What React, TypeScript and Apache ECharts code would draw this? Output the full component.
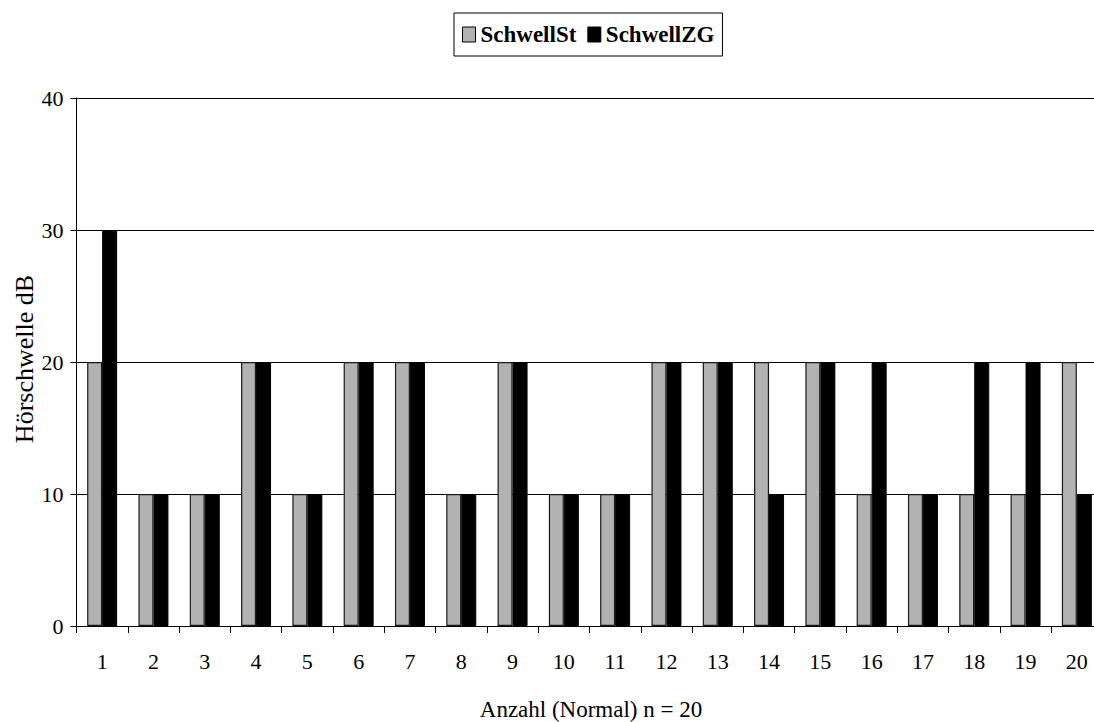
import React, { useEffect, useRef } from "react";
import * as echarts from "echarts";

const categories = ["1", "2", "3", "4", "5", "6", "7", "8", "9", "10", "11", "12", "13", "14", "15", "16", "17", "18", "19", "20"];
const schwellSt = [20, 10, 10, 20, 10, 20, 20, 10, 20, 10, 10, 20, 20, 20, 20, 10, 10, 10, 10, 20];
const schwellZG = [30, 10, 10, 20, 10, 20, 20, 10, 20, 10, 10, 20, 20, 10, 20, 20, 10, 20, 20, 10];
const yTicks = { min: 0, max: 40, interval: 10 };

const FONT = "'Liberation Serif', 'Times New Roman', serif";

export default function App() {
  const ref = useRef<HTMLDivElement>(null);

  useEffect(() => {
    if (!ref.current) return;
    const chart = echarts.init(ref.current, null, { renderer: "svg" });
    chart.setOption({
      animation: false,
      backgroundColor: "#ffffff",
      textStyle: { fontFamily: FONT },
      legend: {
        top: 13,
        left: 454,
        orient: "horizontal",
        padding: [10, 8, 10, 8],
        itemGap: 11,
        itemWidth: 13,
        itemHeight: 15,
        borderColor: "#000",
        borderWidth: 1,
        borderRadius: 0,
        icon: "rect",
        textStyle: { fontFamily: FONT, fontWeight: "bold", fontSize: 23, color: "#000" },
        data: [
          { name: "SchwellSt", itemStyle: { color: "#b2b2b2", borderColor: "#000", borderWidth: 1 } },
          { name: "SchwellZG", itemStyle: { color: "#000", borderColor: "#000", borderWidth: 1 } },
        ],
      },
      grid: { left: 76.5, top: 98, width: 1026, height: 528, containLabel: false, outerBoundsMode: "none" },
      xAxis: {
        type: "category",
        data: categories,
        axisLine: { lineStyle: { color: "#000", width: 1 } },
        axisTick: { show: true, length: 7, interval: 0, alignWithLabel: false, lineStyle: { color: "#000" } },
        axisLabel: { interval: 0, margin: 24, fontSize: 22, color: "#000", fontFamily: FONT },
        splitLine: { show: false },
      },
      yAxis: {
        type: "value",
        min: yTicks.min,
        max: yTicks.max,
        interval: yTicks.interval,
        axisLine: { show: true, lineStyle: { color: "#000", width: 1 } },
        axisTick: { show: true, length: 6, lineStyle: { color: "#000" } },
        axisLabel: { margin: 13, fontSize: 22, color: "#000", fontFamily: FONT },
        splitLine: { show: true, lineStyle: { color: "#000", width: 1 } },
      },
      series: [
        {
          name: "SchwellSt",
          type: "bar",
          data: schwellSt,
          barWidth: 15,
          barGap: "0%",
          itemStyle: { color: "#b2b2b2", borderColor: "#1a1a1a", borderWidth: 1.2 },
        },
        {
          name: "SchwellZG",
          type: "bar",
          data: schwellZG,
          barWidth: 15,
          barGap: "0%",
          itemStyle: { color: "#000", borderColor: "#000", borderWidth: 1 },
        },
      ],
      graphic: [
        {
          type: "text",
          x: 24,
          y: 359,
          rotation: Math.PI / 2,
          style: {
            text: "Hörschwelle dB",
            fontFamily: FONT,
            fontSize: 26,
            fill: "#000",
            align: "center",
            verticalAlign: "middle",
          },
        },
        {
          type: "text",
          x: 591,
          y: 709,
          style: {
            text: "Anzahl (Normal) n = 20",
            fontFamily: FONT,
            fontSize: 23,
            fill: "#000",
            align: "center",
            verticalAlign: "middle",
          },
        },
      ],
    });
    return () => chart.dispose();
  }, []);

  return (
    <div
      ref={ref}
      style={{ position: "absolute", left: 0, top: 0, width: 1094, height: 722, overflow: "hidden" }}
    />
  );
}
